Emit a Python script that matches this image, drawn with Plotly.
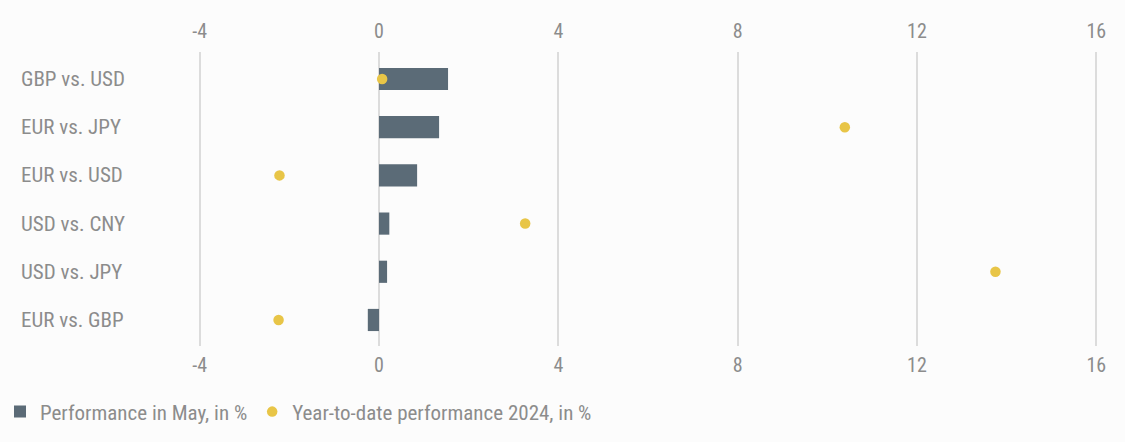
import plotly.graph_objects as go

categories = ["GBP vs. USD", "EUR vs. JPY", "EUR vs. USD", "USD vs. CNY", "USD vs. JPY", "EUR vs. GBP"]
may_perf = [1.54, 1.34, 0.85, 0.23, 0.18, -0.25]
ytd_perf = [0.07, 10.39, -2.22, 3.26, 13.75, -2.24]
tick_vals = [-4, 0, 4, 8, 12, 16]

FONT = "Roboto Condensed, DejaVu Sans Condensed, sans-serif"
GREY = "#8c8c8c"
BG = "#fcfcfc"

fig = go.Figure()
fig.add_trace(go.Bar(
    y=categories, x=may_perf, orientation="h",
    marker=dict(color="#5b6b77", line=dict(width=0)),
    width=0.46, name="Performance in May, in %",
    xaxis="x", yaxis="y",
))
fig.add_trace(go.Scatter(
    y=categories, x=ytd_perf, mode="markers",
    marker=dict(color="#e8c547", size=10.5),
    name="Year-to-date performance 2024, in %",
    xaxis="x2", yaxis="y",
))

for c in categories:
    fig.add_annotation(
        x=0, xref="paper", xshift=-178, y=c, yref="y",
        text=c, showarrow=False, xanchor="left", yanchor="middle",
        font=dict(family=FONT, size=21, color=GREY),
    )

axis_common = dict(
    range=[-4.06, 16.06], tickvals=tick_vals, ticktext=[str(v) for v in tick_vals],
    showline=False, ticks="", automargin=False,
    tickfont=dict(family=FONT, size=20, color=GREY),
)
fig.update_layout(
    width=1125, height=442,
    margin=dict(l=197, r=26, t=52, b=96, autoexpand=False),
    paper_bgcolor=BG, plot_bgcolor=BG,
    xaxis=dict(**axis_common, side="bottom", ticklabelstandoff=5,
               showgrid=True, gridcolor="#dcdcdc", gridwidth=1.5,
               zeroline=True, zerolinecolor="#dcdcdc", zerolinewidth=1.5),
    xaxis2=dict(**axis_common, side="top", overlaying="x", matches="x", ticklabelstandoff=9,
                showgrid=False, zeroline=False),
    yaxis=dict(categoryorder="array", categoryarray=categories, autorange=False,
               range=[5.54, -0.56], showticklabels=False, showgrid=False,
               zeroline=False, showline=False, ticks="", automargin=False),
    showlegend=True,
    legend=dict(orientation="h", xref="container", yref="container",
                x=-0.004, xanchor="left", y=0.068, yanchor="middle",
                font=dict(family=FONT, size=21, color=GREY), bgcolor="rgba(0,0,0,0)",
                traceorder="normal"),
)
fig.write_html("out.html", config={"displayModeBar": False},
               post_script="document.body.style.margin='0';document.body.style.background='#fcfcfc';")
